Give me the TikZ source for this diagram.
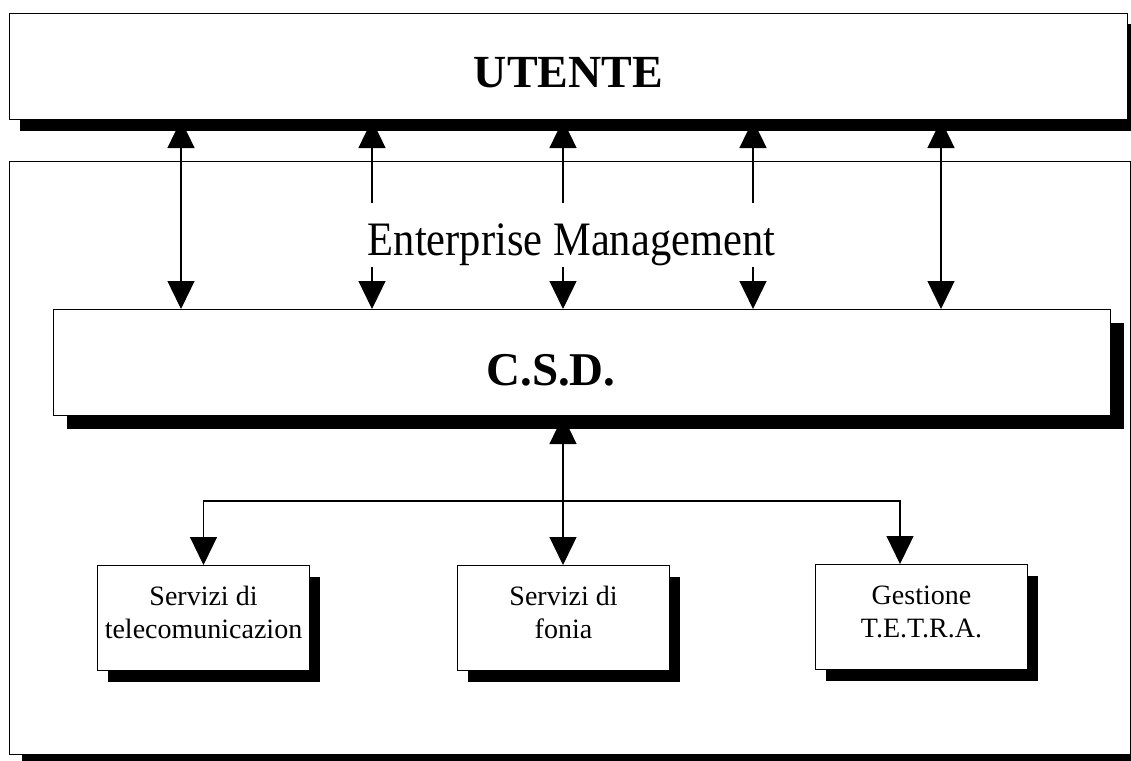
\documentclass[tikz,border=0pt]{standalone}
\usepackage{fontspec}
\usepackage{graphicx}
\setmainfont{Liberation Serif}
\usetikzlibrary{arrows.meta,shadows}
\pgfdeclarelayer{back}
\pgfdeclarelayer{mid}
\pgfsetlayers{back,mid,main}
\tikzset{
  box/.style={draw=black, line width=1pt, fill=white, inner sep=0pt, anchor=north west},
  shad/.style 2 args={general shadow={fill=black, shadow xshift=#1, shadow yshift=#2}},
  tri/.tip={Triangle[width=27pt,length=28pt]},
  link/.style={line width=1.3pt, tri-tri},
  onelink/.style={line width=1.2pt, -tri},
  small/.style={box, shad={10pt}{-11pt}, minimum width=212pt, minimum height=105pt,
    align=center, font=\fontsize{28}{33}\selectfont, text depth=11pt}
}
\begin{document}
\begin{tikzpicture}[x=1pt,y=-1pt]
\useasboundingbox (0,0) rectangle (1131,760);
% outer frame
\begin{pgfonlayer}{back}
\node[box, shad={12pt}{-12pt}, minimum width=1121pt, minimum height=593pt] (outer) at (9,161) {};
\end{pgfonlayer}
% main boxes
\node[box, shad={10pt}{-11pt}, minimum width=1118pt, minimum height=106pt,
      font=\fontsize{46}{50}\selectfont\bfseries, text height=42pt, text depth=0pt] (ut) at (9,13) {UTENTE};
\node[box, shad={13pt}{-13pt}, minimum width=1057pt, minimum height=106pt,
      font=\fontsize{47}{50}\selectfont\bfseries, text height=45pt, text depth=0pt] (csd) at (53,309) {\kern-62pt C.S.D.};
% small boxes
\node[small] (b1) at (97,565) {Servizi di\\telecomunicazion};
\node[small] (b2) at (457,565) {Servizi di\\fonia};
\node[small] (b3) at (815,564) {Gestione\\T.E.T.R.A.};
% coordinates
\foreach \i/\x in {1/181,2/372,3/563,4/753,5/941} {\coordinate (c\i) at (\x,0);}
\coordinate (j) at (563,501);
\coordinate (k) at (900,501);
% connectors
\begin{pgfonlayer}{mid}
\foreach \i in {1,...,5} {\draw[link] (c\i |- ut.south) -- (c\i |- csd.north);}
\draw[link] (j |- csd.south) -- (j |- b2.north);
\draw[onelink] (j) -| (b1.north);
\draw[onelink] (j) -- (k) -- (k |- b3.north);
\end{pgfonlayer}
% label over the connectors
\node[fill=white, inner xsep=5pt, inner ysep=0pt, text height=52pt, text depth=12pt, anchor=base,
      font=\fontsize{42.5}{46}\selectfont] (em) at (571.5,255) {\scalebox{1}[1.13]{Enterprise Management}};
\end{tikzpicture}
\end{document}
